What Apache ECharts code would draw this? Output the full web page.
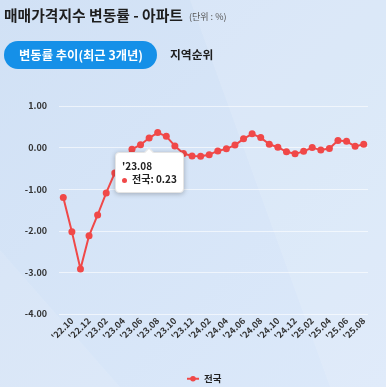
<!DOCTYPE html>
<html><head><meta charset="utf-8">
<script src="https://cdn.jsdelivr.net/npm/echarts@6/dist/echarts.min.js"></script>
<style>
html,body{margin:0;padding:0;width:386px;height:387px;overflow:hidden;background:#d6e5f7}
#c{width:386px;height:387px}
</style>
</head><body><div id="c"></div><script>
// ---- data ----
const months = ["'22.10","'22.11","'22.12","'23.01","'23.02","'23.03","'23.04","'23.05","'23.06","'23.07","'23.08","'23.09",
  "'23.10","'23.11","'23.12","'24.01","'24.02","'24.03","'24.04","'24.05","'24.06","'24.07","'24.08","'24.09",
  "'24.10","'24.11","'24.12","'25.01","'25.02","'25.03","'25.04","'25.05","'25.06","'25.07","'25.08","'25.09"];
const values = [-1.20,-2.02,-2.92,-2.12,-1.62,-1.09,-0.61,-0.30,-0.04,0.07,0.23,0.36,
  0.27,0.04,-0.14,-0.20,-0.21,-0.17,-0.08,-0.03,0.06,0.21,0.33,0.24,
  0.08,0.01,-0.10,-0.15,-0.09,0.00,-0.06,-0.02,0.17,0.15,0.03,0.08];
// tick labels as placed on the reference axis (every other slot)
const tickLabels = months.map((m, i) => (i % 2 === 1 ? months[i - 1] : ''));
const seriesName = '전국';
const yMin = -4, yMax = 1, yInterval = 1;
const tooltipIndex = 10;

const FONT = '"Noto Sans CJK KR", "Noto Sans", sans-serif';
const chart = echarts.init(document.getElementById('c'), null, {renderer: 'canvas'});
chart.setOption({
  animation: false,
  backgroundColor: {
    type: 'linear', x: 0, y: 0, x2: 1, y2: 1,
    colorStops: [{offset: 0, color: '#d1e1f5'}, {offset: 1, color: '#dce9fa'}]
  },
  textStyle: {fontFamily: FONT},
  graphic: [
    {type: 'polygon', silent: true, z: -10, shape: {points: [[190, 0], [386, 0], [386, 387], [330, 387]]},
     style: {fill: 'rgba(255,255,255,0.12)'}},
    {type: 'polygon', silent: true, z: -10, shape: {points: [[0, 250], [0, 387], [120, 387]]},
     style: {fill: 'rgba(255,255,255,0.10)'}},
    {type: 'text', left: 4, top: 8, style: {text: '매매가격지수 변동률 - 아파트', fill: '#1e1e1e',
      font: 'bold 14.8px ' + FONT}},
    {type: 'text', left: 189, top: 12, style: {text: '(단위 : %)', fill: '#555',
      font: '9px ' + FONT}},
    {type: 'rect', shape: {x: 4, y: 41, width: 153, height: 28, r: 14}, style: {fill: '#1590e8'}},
    {type: 'text', x: 81, y: 55, style: {text: '변동률 추이(최근 3개년)', fill: '#ffffff',
      font: 'bold 12.3px ' + FONT, align: 'center', verticalAlign: 'middle'}},
    {type: 'text', x: 170, y: 55, style: {text: '지역순위', fill: '#1e1e1e',
      font: 'bold 11.8px ' + FONT, align: 'left', verticalAlign: 'middle'}}
  ],
  grid: {left: 59, right: 18, top: 106, bottom: 73, containLabel: false},
  tooltip: {
    trigger: 'item',
    triggerOn: 'none',
    alwaysShowContent: true,
    position: 'bottom',
    backgroundColor: '#ffffff',
    borderColor: '#e4e4e4',
    borderWidth: 1,
    padding: [6, 6, 6, 6],
    extraCssText: 'box-shadow:0 1px 5px rgba(0,0,0,0.25);border-radius:4px;',
    textStyle: {fontFamily: FONT, fontSize: 10, color: '#222'},
    formatter: function (p) {
      return '<div style="font-weight:600;line-height:13px">' + p.name + '</div>' +
        '<div style="font-weight:700;line-height:14px"><span style="display:inline-block;width:5px;height:5px;border-radius:50%;background:' +
        p.color + ';margin-right:5px;vertical-align:middle"></span>' + p.seriesName + ': ' + p.value.toFixed(2) + '</div>';
    }
  },
  legend: {
    data: [seriesName], top: 369, left: 181, itemWidth: 12, itemHeight: 7, itemGap: 10,
    textStyle: {fontFamily: FONT, fontSize: 9.5, fontWeight: 'bold', color: '#222'}
  },
  xAxis: {
    type: 'category', data: months, boundaryGap: true,
    axisLine: {show: false}, axisTick: {show: false},
    axisLabel: {
      interval: 0, rotate: 45, margin: 5,
      fontFamily: FONT, fontSize: 9, fontWeight: 600, color: '#333',
      formatter: function (v, i) { return tickLabels[i]; }
    },
    splitLine: {show: false}
  },
  yAxis: {
    type: 'value', min: yMin, max: yMax, interval: yInterval,
    axisLine: {show: false}, axisTick: {show: false},
    axisLabel: {margin: 12, fontFamily: FONT, fontSize: 9, fontWeight: 'bold', color: '#333',
      formatter: v => v.toFixed(2)},
    splitLine: {lineStyle: {color: 'rgba(255,255,255,0.6)', width: 1}}
  },
  series: [{
    name: seriesName, type: 'line', data: values,
    symbol: 'circle', symbolSize: 7, showSymbol: true,
    lineStyle: {color: '#f04848', width: 2},
    itemStyle: {color: '#f04848'},
    emphasis: {disabled: true}
  }]
});
chart.dispatchAction({type: 'showTip', seriesIndex: 0, dataIndex: tooltipIndex});
</script></body></html>
